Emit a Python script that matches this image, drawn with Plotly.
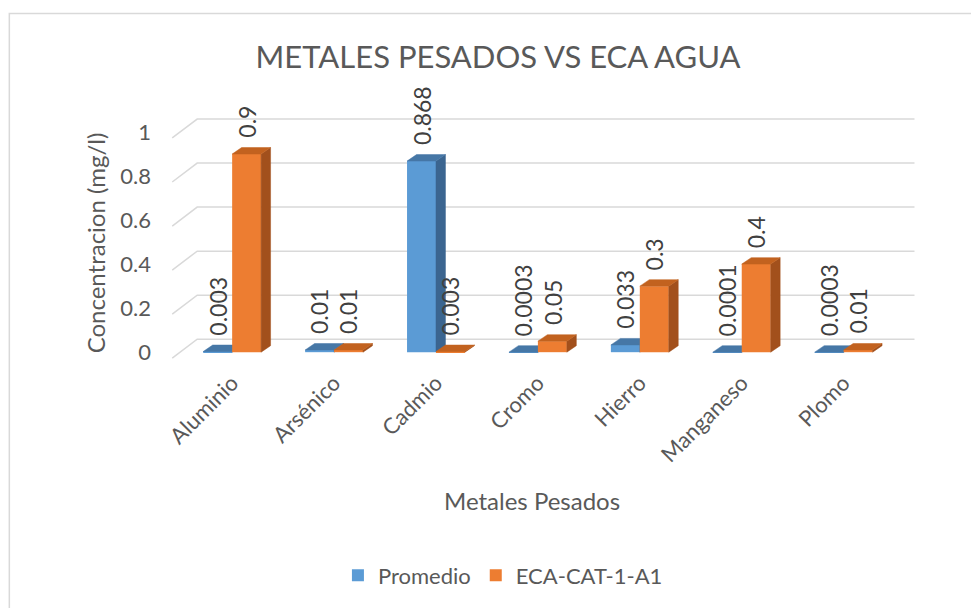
import plotly.graph_objects as go

# --- data -------------------------------------------------------------
categories = ["Aluminio", "Arsénico", "Cadmio", "Cromo", "Hierro", "Manganeso", "Plomo"]
promedio = [0.003, 0.01, 0.868, 0.0003, 0.033, 0.0001, 0.0003]
eca = [0.9, 0.01, 0.003, 0.05, 0.3, 0.4, 0.01]
y_ticks = [0, 0.2, 0.4, 0.6, 0.8, 1.0]
y_ticktext = ["0", "0.2", "0.4", "0.6", "0.8", "1"]

# --- geometry / style -------------------------------------------------
W, H = 971, 608
L, R = 170.8, 915.4          # plot area (pixels)
T, B = 110.0, 360.8
XR = [-0.6, 6.7]
YR = [-0.04, 1.1]
BW = 0.284                   # bar width (category units)
DX, DY = 0.093, 0.0295       # 3-D depth offset of the bar faces
WALL_DX0, WALL_DX1 = -0.588, -0.343   # front / back x of the grid wall
WALL_DY0, WALL_DY1 = -0.027, 0.059    # front / back y offset of the grid wall

FONT = "Lato"
TXT = "#595959"
LBL = "#404040"
GRID = "#d9d9d9"

series = [
    dict(name="Promedio", vals=promedio, side=-1, axes=("x", "y"),
         front="#5B9BD5", top="#4677A6", flank="#3B6590"),
    dict(name="ECA-CAT-1-A1", vals=eca, side=0, axes=("x2", "y2"),
         front="#ED7D31", top="#C2621F", flank="#A2501C"),
]


def px_to_paper_x(px):
    return (px - L) / (R - L)


def px_to_paper_y(py):
    return (B - py) / (B - T)


fig = go.Figure()
annotations = []

for s in series:
    xa, ya = s["axes"]
    xs = list(range(len(categories)))
    left = [i + s["side"] * BW for i in xs]
    # front faces
    fig.add_trace(go.Bar(
        x=xs, y=s["vals"], width=BW, offset=s["side"] * BW,
        marker=dict(color=s["front"], line=dict(width=0)),
        name=s["name"], xaxis=xa, yaxis=ya, hoverinfo="skip",
    ))
    # top and side faces
    tx, ty, sx, sy = [], [], [], []
    for x0, v in zip(left, s["vals"]):
        x1 = x0 + BW
        tx += [x0, x1, x1 + DX, x0 + DX, x0, None]
        ty += [v, v, v + DY, v + DY, v, None]
        sx += [x1, x1, x1 + DX, x1 + DX, x1, None]
        sy += [0, v, v + DY, DY, 0, None]
    for fx, fy, col in ((sx, sy, s["flank"]), (tx, ty, s["top"])):
        fig.add_trace(go.Scatter(
            x=fx, y=fy, mode="lines", fill="toself", fillcolor=col,
            line=dict(color=col, width=0.5), showlegend=False,
            xaxis=xa, yaxis=ya, hoverinfo="skip",
        ))
    # value labels
    for x0, v in zip(left, s["vals"]):
        annotations.append(dict(
            x=x0 + BW / 2, y=v, xref="x", yref="y", text=f"{v:g}",
            textangle=-90, showarrow=False, xanchor="center", yanchor="bottom",
            yshift=14, font=dict(family=FONT, size=23, color=LBL),
        ))

# back-wall grid lines with the receding floor edge
shapes = []
for v in y_ticks:
    shapes.append(dict(
        type="path", xref="x", yref="y", layer="below",
        path=f"M{WALL_DX0},{v + WALL_DY0} L{WALL_DX1},{v + WALL_DY1} L{XR[1] - 0.005},{v + WALL_DY1}",
        line=dict(color=GRID, width=1.5),
    ))

# chart frame
shapes.append(dict(
    type="rect", xref="paper", yref="paper", layer="below",
    x0=px_to_paper_x(9), x1=px_to_paper_x(985),
    y0=px_to_paper_y(625), y1=px_to_paper_y(13.5),
    line=dict(color=GRID, width=1.5), fillcolor="rgba(0,0,0,0)",
))

# axis titles
annotations.append(dict(
    x=px_to_paper_x(95), y=px_to_paper_y(243), xref="paper", yref="paper",
    xanchor="center", yanchor="middle",
    text="Concentracion (mg/l)", textangle=-90, showarrow=False,
    font=dict(family=FONT, size=24, color=TXT),
))
annotations.append(dict(
    x=px_to_paper_x(532), y=px_to_paper_y(500), xref="paper", yref="paper",
    xanchor="center", yanchor="middle",
    text="Metales Pesados", showarrow=False,
    font=dict(family=FONT, size=24, color=TXT),
))

axis_common = dict(showgrid=False, zeroline=False, showline=False, ticks="")
fig.update_layout(
    width=W, height=H,
    margin=dict(l=L, r=W - R, t=T, b=H - B, autoexpand=False),
    paper_bgcolor="white", plot_bgcolor="white",
    title=dict(text="METALES PESADOS VS ECA AGUA", x=498 / W, xanchor="center",
               y=1 - 57 / H, yanchor="middle", xref="container", yref="container",
               font=dict(family=FONT, size=31, color=TXT)),
    xaxis=dict(range=XR, tickvals=list(range(len(categories))), ticktext=categories,
               tickangle=-45, tickfont=dict(family=FONT, size=22, color=TXT),
               ticklabelstandoff=4, **axis_common),
    yaxis=dict(range=YR, tickvals=y_ticks, ticktext=y_ticktext,
               tickfont=dict(family=FONT, size=22, color=TXT),
               ticklabelstandoff=19, **axis_common),
    xaxis2=dict(range=XR, overlaying="x", visible=False, matches="x"),
    yaxis2=dict(range=YR, overlaying="y", visible=False, matches="y"),
    barmode="overlay",
    legend=dict(orientation="h", x=px_to_paper_x(503), xanchor="center",
                y=px_to_paper_y(575), yanchor="middle",
                font=dict(family=FONT, size=22, color=TXT),
                itemwidth=30, tracegroupgap=0),
    shapes=shapes, annotations=annotations, showlegend=True,
)

fig.write_html("out.html")
